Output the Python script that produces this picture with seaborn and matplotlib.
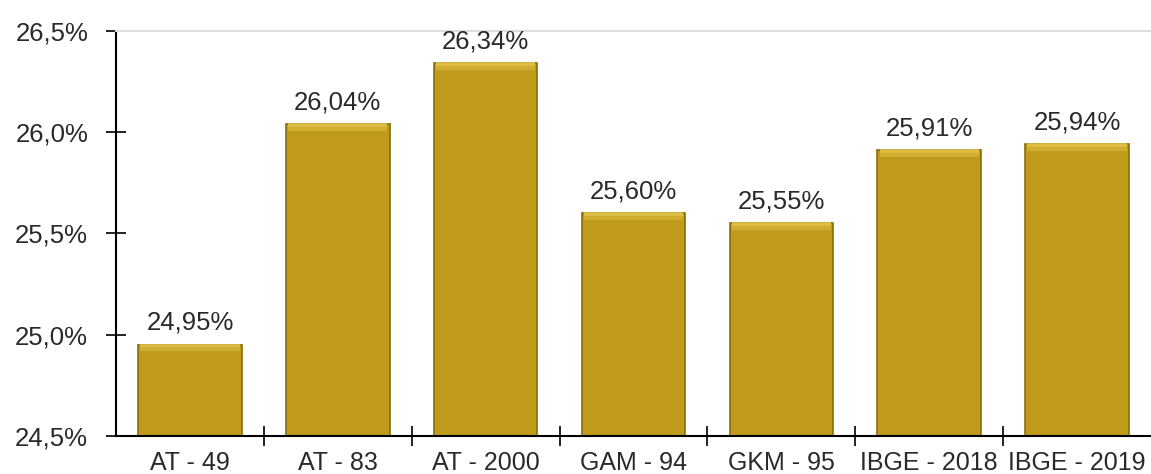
import matplotlib
matplotlib.use("Agg")
import matplotlib.pyplot as plt
from matplotlib.ticker import FixedLocator
import seaborn as sns
import numpy as np

categories = ["AT - 49", "AT - 83", "AT - 2000", "GAM - 94", "GKM - 95", "IBGE - 2018", "IBGE - 2019"]
values = [24.95, 26.04, 26.34, 25.60, 25.55, 25.91, 25.94]
y_ticks = [24.5, 25.0, 25.5, 26.0, 26.5]

sns.set_theme(style="white")
plt.rcParams["font.family"] = ["Liberation Sans", "DejaVu Sans"]

fig = plt.figure(figsize=(11.51, 4.74), dpi=100)
ax = fig.add_axes([0.1008, 0.0802, 0.8992, 0.8544])

sns.barplot(x=categories, y=values, color="#BF9A1B", width=0.7,
            edgecolor="#8a6d0e", linewidth=1.2, saturation=1, ax=ax)

# soft bevel along the top of each bar
for p in ax.patches:
    x0, w, top = p.get_x(), p.get_width(), p.get_y() + p.get_height()
    ax.plot([x0 + w * 0.02, x0 + w * 0.98], [top - 0.010, top - 0.010],
            color="#DDBE45", lw=4, solid_capstyle="butt", zorder=3)
    ax.plot([x0 + w * 0.02, x0 + w * 0.98], [top - 0.022, top - 0.022],
            color="#CFAE30", lw=3, solid_capstyle="butt", zorder=3)

ax.set_ylim(24.5, 26.5)
ax.set_xlim(-0.5, len(categories) - 0.5)

ax.set_yticks(y_ticks)
ax.set_yticklabels([f"{t:.1f}%".replace(".", ",") for t in y_ticks], fontsize=18.5, color="#2a2a2a")
ax.tick_params(axis="y", direction="inout", length=14, width=1.2, color="black", pad=13, left=True)

ax.set_xticks(range(len(categories)))
ax.set_xticklabels(categories, fontsize=18, color="#2a2a2a")
ax.tick_params(axis="x", which="major", length=0, pad=11)
ax.xaxis.set_minor_locator(FixedLocator(np.arange(0.5, len(categories) - 0.5, 1)))
ax.tick_params(axis="x", which="minor", direction="inout", length=14, width=1.2, color="black", bottom=True)

for side in ["left", "bottom"]:
    ax.spines[side].set_color("black")
    ax.spines[side].set_linewidth(1.5)
ax.spines["right"].set_visible(False)
ax.spines["top"].set_color("#dddddd")
ax.spines["top"].set_linewidth(1.5)

for i, v in enumerate(values):
    ax.text(i, v + 0.05, f"{v:.2f}%".replace(".", ","), ha="center", va="bottom",
            fontsize=18.5, color="#2a2a2a")

ax.set_xlabel("")
ax.set_ylabel("")
fig.savefig("out.png", dpi=100)
